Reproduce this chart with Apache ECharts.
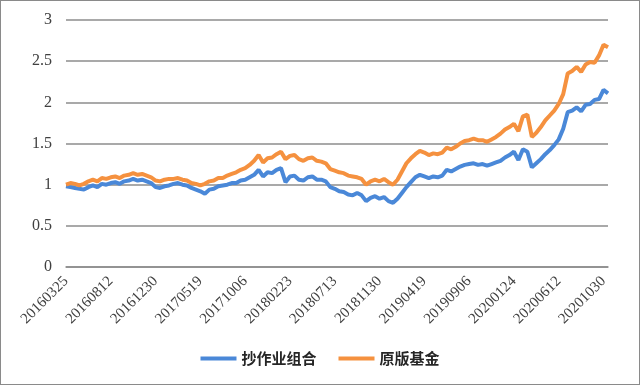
<!DOCTYPE html>
<html>
<head>
<meta charset="utf-8">
<script src="https://cdn.jsdelivr.net/npm/echarts@6/dist/echarts.min.js"></script>
<style>
html,body{margin:0;padding:0;background:#fff;}
#c{width:640px;height:385px;box-sizing:border-box;border:1px solid #8a8a8a;}
</style>
</head>
<body>
<div id="c"></div>
<script>
// Biweekly dates (Fridays)
const dates = [
"20160325","20160408","20160422","20160506","20160520","20160603","20160617","20160701","20160715","20160729",
"20160812","20160826","20160909","20160923","20161007","20161021","20161104","20161118","20161202","20161216",
"20161230","20170113","20170127","20170210","20170224","20170310","20170324","20170407","20170421","20170505",
"20170519","20170602","20170616","20170630","20170714","20170728","20170811","20170825","20170908","20170922",
"20171006","20171020","20171103","20171117","20171201","20171215","20171229","20180112","20180126","20180209",
"20180223","20180309","20180323","20180406","20180420","20180504","20180518","20180601","20180615","20180629",
"20180713","20180727","20180810","20180824","20180907","20180921","20181005","20181019","20181102","20181116",
"20181130","20181214","20181228","20190111","20190125","20190208","20190222","20190308","20190322","20190405",
"20190419","20190503","20190517","20190531","20190614","20190628","20190712","20190726","20190809","20190823",
"20190906","20190920","20191004","20191018","20191101","20191115","20191129","20191213","20191227","20200110",
"20200124","20200207","20200221","20200306","20200320","20200403","20200417","20200501","20200515","20200529",
"20200612","20200626","20200710","20200724","20200807","20200821","20200904","20200918","20201002","20201016",
"20201030","20201113"
];
const tickLabels = ["20160325","20160812","20161230","20170519","20171006","20180223","20180713","20181130","20190419","20190906","20200124","20200612","20201030"];

const seriesNames = ["抄作业组合","原版基金"];

const copyPortfolio = [
0.98,0.97,0.96,0.95,0.94,0.97,0.99,0.97,1.01,1.00,
1.02,1.03,1.01,1.04,1.05,1.07,1.05,1.06,1.04,1.02,
0.97,0.96,0.98,0.99,1.01,1.02,1.00,0.99,0.96,0.94,
0.92,0.89,0.94,0.95,0.98,0.99,1.00,1.02,1.02,1.05,
1.06,1.09,1.12,1.18,1.10,1.15,1.14,1.18,1.20,1.03,
1.10,1.11,1.06,1.05,1.09,1.10,1.06,1.06,1.04,0.97,
0.95,0.92,0.91,0.88,0.87,0.90,0.87,0.80,0.84,0.86,
0.83,0.85,0.80,0.78,0.83,0.90,0.97,1.03,1.09,1.12,
1.10,1.08,1.10,1.09,1.11,1.18,1.16,1.19,1.22,1.24,
1.25,1.26,1.24,1.25,1.23,1.25,1.27,1.29,1.33,1.36,
1.40,1.30,1.43,1.40,1.21,1.26,1.31,1.37,1.42,1.48,
1.55,1.68,1.88,1.90,1.94,1.89,1.97,1.98,2.03,2.04,
2.15,2.11
];

const originalFund = [
1.00,1.02,1.01,0.99,1.01,1.04,1.06,1.04,1.08,1.07,
1.09,1.10,1.08,1.11,1.12,1.14,1.12,1.13,1.11,1.09,
1.05,1.04,1.06,1.07,1.07,1.08,1.06,1.05,1.02,1.01,
0.99,1.01,1.04,1.05,1.08,1.08,1.11,1.13,1.15,1.18,
1.20,1.24,1.29,1.36,1.27,1.32,1.33,1.37,1.40,1.31,
1.35,1.36,1.31,1.29,1.32,1.33,1.29,1.28,1.26,1.19,
1.17,1.15,1.14,1.11,1.10,1.09,1.07,1.00,1.04,1.06,
1.04,1.07,1.03,1.00,1.06,1.16,1.26,1.32,1.37,1.41,
1.39,1.36,1.38,1.37,1.39,1.45,1.43,1.46,1.50,1.53,
1.54,1.56,1.54,1.54,1.52,1.55,1.58,1.62,1.67,1.70,
1.74,1.65,1.83,1.85,1.58,1.63,1.70,1.78,1.84,1.90,
1.98,2.10,2.35,2.38,2.43,2.37,2.46,2.49,2.48,2.57,
2.70,2.67
];

const chart = echarts.init(document.getElementById('c'), null, {renderer:'canvas'});
const labelFont = '"Liberation Serif", "Noto Serif", serif';
chart.setOption({
  animation: false,
  backgroundColor: '#ffffff',
  grid: {left: 65, right: 31, top: 19, bottom: 117, containLabel: false},
  legend: {
    bottom: 13,
    left: 'center',
    itemWidth: 36,
    itemHeight: 4,
    itemGap: 22,
    icon: 'rect',
    textStyle: {fontFamily: '"Noto Sans CJK SC", sans-serif', fontWeight: 'bold', fontSize: 15, color: '#262626'},
    data: seriesNames
  },
  xAxis: {
    type: 'category',
    data: dates,
    boundaryGap: false,
    axisLine: {lineStyle: {color: '#8c8c8c', width: 1.5}},
    axisTick: {show: false},
    axisLabel: {
      interval: function(i, v){ return tickLabels.indexOf(v) >= 0; },
      rotate: 45,
      margin: 12,
      fontFamily: labelFont,
      fontSize: 15,
      color: '#404040'
    },
    splitLine: {show: false}
  },
  yAxis: {
    type: 'value',
    min: 0, max: 3, interval: 0.5,
    axisLine: {show: false},
    axisTick: {show: false},
    axisLabel: {margin: 14, fontFamily: labelFont, fontSize: 16, color: '#404040'},
    splitLine: {lineStyle: {color: '#8c8c8c', width: 1.5}}
  },
  series: [
    {name: seriesNames[0], type: 'line', data: copyPortfolio, showSymbol: false, symbol: 'none',
     lineStyle: {color: '#4a88d8', width: 4}, itemStyle: {color: '#4a88d8'}},
    {name: seriesNames[1], type: 'line', data: originalFund, showSymbol: false, symbol: 'none',
     lineStyle: {color: '#f5913f', width: 4}, itemStyle: {color: '#f5913f'}}
  ]
});
</script>
</body>
</html>
